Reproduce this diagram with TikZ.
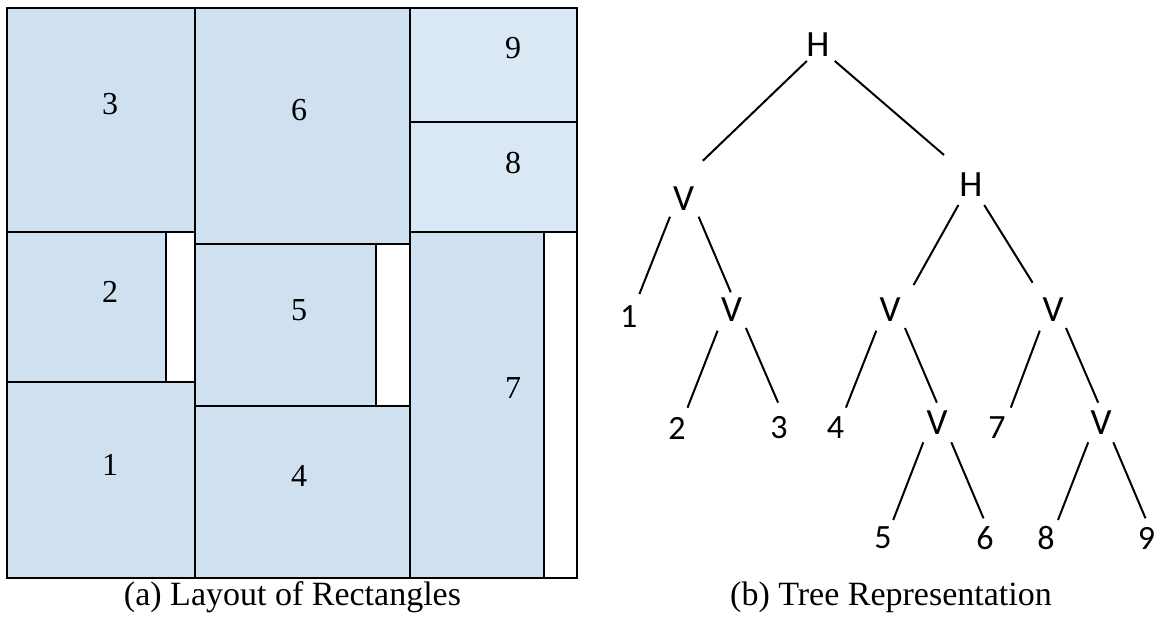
\documentclass[tikz,border=0pt]{standalone}
\usepackage{fontspec}
\setmainfont{Liberation Serif}
\newfontfamily\treefont{Carlito}
\usetikzlibrary{calc}
\definecolor{rfill}{RGB}{207,225,241}
\definecolor{rfilll}{RGB}{218,232,245}
\begin{document}
\begin{tikzpicture}[x=1pt,y=-1pt,
  blk/.style={draw=black,line width=2pt,fill=rfill},
  blkl/.style={draw=black,line width=2pt,fill=rfilll},
  gapbox/.style={draw=black,line width=2pt,fill=white},
  rlab/.style={inner sep=0pt,font=\fontsize{32}{32}\selectfont},
  tlet/.style={inner sep=0pt,font=\treefont\fontsize{37}{37}\selectfont},
  tnum/.style={inner sep=0pt,font=\treefont\fontsize{34}{34}\selectfont},
  edge/.style={line width=2pt,black},
  captext/.style={inner sep=0pt,anchor=base,font=\fontsize{34}{34}\selectfont}]
\useasboundingbox (0,0) rectangle (1162,617);
% layout of rectangles
\draw[blk] (7,8) rectangle (195,232);
\draw[blk] (7,232) rectangle (166,382);
\draw[gapbox] (166,232) rectangle (195,382);
\draw[blk] (7,382) rectangle (195,578);
\draw[blk] (195,8) rectangle (410,244);
\draw[blk] (195,244) rectangle (376,406);
\draw[gapbox] (376,244) rectangle (410,406);
\draw[blk] (195,406) rectangle (410,578);
\draw[blkl] (410,8) rectangle (577,122);
\draw[blkl] (410,122) rectangle (577,232);
\draw[blk] (410,232) rectangle (544,578);
\draw[gapbox] (544,232) rectangle (577,578);
\node[rlab] (r3) at (110,104) {3};
\node[rlab] (r6) at (299,110) {6};
\node[rlab] (r9) at (513,48) {9};
\node[rlab] (r8) at (513,163) {8};
\node[rlab] (r2) at (110,292) {2};
\node[rlab] (r5) at (299,310) {5};
\node[rlab] (r7) at (513,388) {7};
\node[rlab] (r1) at (110,465) {1};
\node[rlab] (r4) at (299,476) {4};
% tree
\node[tlet] (root) at (818,45) {H};
\node[tlet] (vl) at (683.5,199) {V};
\node[tlet] (hr) at (971,185) {H};
\node[tnum] (n1) at (628.7,317) {1};
\node[tlet] (va) at (731.5,310) {V};
\node[tlet] (vb) at (890,310) {V};
\node[tlet] (vc) at (1053,310) {V};
\node[tnum] (n2) at (677,428) {2};
\node[tnum] (n3) at (779,428) {3};
\node[tnum] (n4) at (835.5,428) {4};
\node[tlet] (vd) at (937,423) {V};
\node[tnum] (n7) at (997,428) {7};
\node[tlet] (ve) at (1101,423) {V};
\node[tnum] (n5) at (883,538) {5};
\node[tnum] (n6) at (985,538) {6};
\node[tnum] (n8) at (1046,538) {8};
\node[tnum] (n9) at (1146.6,538) {9};
\draw[edge] ($(root)+(-11.2,16)$) -- ($(vl)+(19.4,-38.3)$);
\draw[edge] ($(root)+(16.8,16)$) -- ($(hr)+(-27,-30)$);
\draw[edge] ($(vl)+(-13.5,17.7)$) -- ($(n1)+(10.7,-23)$);
\draw[edge] ($(vl)+(15.1,17.7)$) -- ($(va)+(-0.7,-17.7)$);
\draw[edge] ($(hr)+(-12.6,20)$) -- ($(vb)+(23.6,-25)$);
\draw[edge] ($(hr)+(13.2,20)$) -- ($(vc)+(-20.4,-27.3)$);
\draw[edge] ($(va)+(-13.9,20.7)$) -- ($(n2)+(10.5,-20.3)$);
\draw[edge] ($(va)+(14.4,18)$) -- ($(n3)+(-0.9,-25.3)$);
\draw[edge] ($(vb)+(-13.7,20.7)$) -- ($(n4)+(10.4,-20.3)$);
\draw[edge] ($(vb)+(15,18)$) -- ($(vd)+(-0.1,-20.3)$);
\draw[edge] ($(vc)+(-13.2,20.7)$) -- ($(n7)+(13.8,-20.3)$);
\draw[edge] ($(vc)+(13,18)$) -- ($(ve)+(-2.8,-20.3)$);
\draw[edge] ($(vd)+(-13.7,19.3)$) -- ($(n5)+(10.2,-18)$);
\draw[edge] ($(vd)+(14.3,19.3)$) -- ($(n6)+(-1.5,-19.7)$);
\draw[edge] ($(ve)+(-12.8,19.3)$) -- ($(n8)+(12,-18)$);
\draw[edge] ($(ve)+(12.3,19.3)$) -- ($(n9)+(-1.1,-19.7)$);
% captions
\node[captext] (capa) at (292.5,605) {(a) Layout of Rectangles};
\node[captext] (capb) at (891,605) {(b) Tree Representation};
\end{tikzpicture}
\end{document}
